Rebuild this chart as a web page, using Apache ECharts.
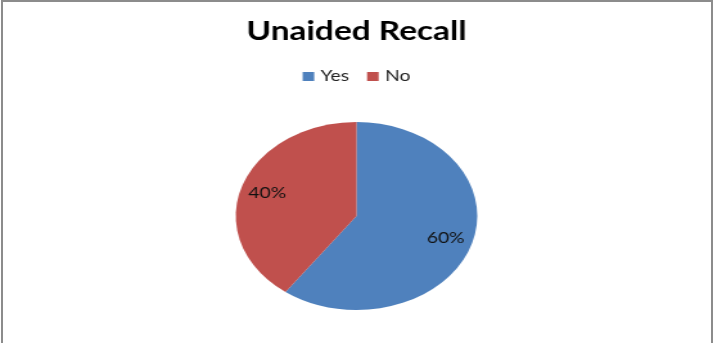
<!DOCTYPE html>
<html>
<head>
<meta charset="utf-8">
<script src="https://cdn.jsdelivr.net/npm/echarts@6/dist/echarts.min.js"></script>
<style>
  html, body { margin: 0; padding: 0; background: #fff; overflow: hidden; }
  #frame {
    position: absolute; left: 1px; top: 0; width: 712px; height: 345px;
    border-top: 2px solid #8c8c8c; border-left: 2px solid #8c8c8c; border-right: 2px solid #8c8c8c;
    box-sizing: border-box; pointer-events: none;
  }
  /* the chart is laid out narrow and widened, giving an oval pie */
  #chart {
    position: absolute; left: 0; top: 0; width: 555px; height: 343px;
    transform: scaleX(1.2847); transform-origin: 0 0;
  }
</style>
</head>
<body>
<div id="chart"></div>
<div id="frame"></div>
<script>
const titleText = 'Unaided Recall';
const categories = ['Yes', 'No'];
const shares = [60, 40];
const colors = ['#4F81BD', '#C0504D'];

const sliceData = categories.map((name, i) => ({ name: name, value: shares[i] }));

const chart = echarts.init(document.getElementById('chart'), null, { renderer: 'canvas' });
chart.setOption({
  animation: false,
  backgroundColor: '#ffffff',
  color: colors,
  title: {
    text: titleText,
    left: 'center',
    top: 14,
    textStyle: { fontFamily: 'Lato', fontWeight: 'bold', fontSize: 26, color: '#000' }
  },
  legend: {
    data: categories,
    top: 64,
    left: 'center',
    icon: 'rect',
    itemWidth: 9,
    itemHeight: 9,
    itemGap: 14,
    textStyle: { fontFamily: 'Lato', fontSize: 15, color: '#222' }
  },
  series: [
    {
      name: 'slices',
      type: 'pie',
      center: ['50%', 216],
      radius: [0, 94],
      startAngle: 90,
      clockwise: true,
      silent: true,
      label: { show: false },
      labelLine: { show: false },
      itemStyle: { borderWidth: 0 },
      data: sliceData
    },
    {
      // wider invisible ring that only carries the percentage labels
      name: 'labels',
      type: 'pie',
      center: ['50%', 216],
      radius: [0, 140],
      startAngle: 90,
      clockwise: true,
      silent: true,
      z: 3,
      itemStyle: { color: 'rgba(0,0,0,0)', borderWidth: 0 },
      label: {
        show: true,
        position: 'inside',
        formatter: '{d}%',
        fontFamily: 'Lato',
        fontSize: 15,
        color: '#111'
      },
      labelLine: { show: false },
      data: sliceData
    }
  ]
});
</script>
</body>
</html>
